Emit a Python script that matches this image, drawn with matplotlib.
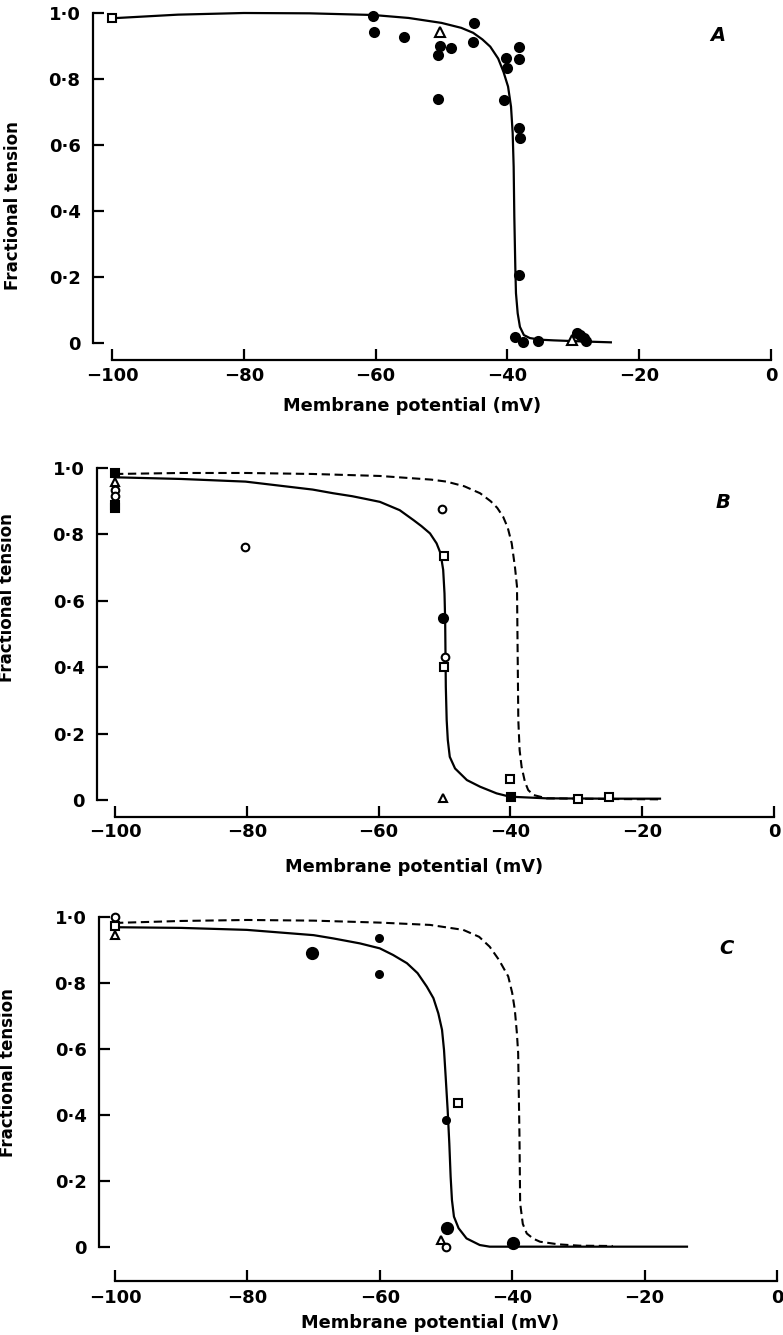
# Fractional tension vs membrane potential, three panels (A, B, C)
import matplotlib
matplotlib.use("Agg")
import matplotlib.pyplot as plt

plt.rcParams['font.family'] = ['DejaVu Sans']
plt.rcParams['font.weight'] = 'bold'

# ---- panel A ----
a_curve_x = [-100, -90, -80, -70, -60.4, -55, -50, -47, -45.2, -43.8, -42.6, -41.4, -40.6, -39.9, -39.45,
             -39.2, -39.05, -38.95, -38.8, -38.7, -38.44, -38.1, -37.5, -36.6, -35, -33, -29, -24.3]
a_curve_y = [0.984, 0.995, 1.0, 0.999, 0.994, 0.985, 0.97, 0.955, 0.94, 0.92, 0.898, 0.862, 0.822, 0.777, 0.716,
             0.636, 0.534, 0.383, 0.23, 0.151, 0.09, 0.049, 0.024, 0.015, 0.010, 0.008, 0.005, 0.002]

a_fill_x = [-60.4, -60.2, -55.7, -45.1, -45.2, -50.2, -50.5, -48.5, -50.6, -40.2, -40.1, -40.5,
            -38.3, -38.2, -38.3, -38.1, -38.2, -38.8, -37.6, -35.3, -29.5, -29.0, -28.4, -28.0]
a_fill_y = [0.991, 0.943, 0.926, 0.969, 0.913, 0.900, 0.873, 0.893, 0.738, 0.863, 0.833, 0.736,
            0.898, 0.860, 0.651, 0.620, 0.206, 0.019, 0.004, 0.007, 0.031, 0.024, 0.014, 0.007]
a_tri_x = [-50.3, -30.2]
a_tri_y = [0.941, 0.009]
a_sq_x = [-100]
a_sq_y = [0.985]

# ---- panel B ----
b_solid_x = [-100, -90, -80.2, -70, -66.9, -64, -62, -59.8, -56.8, -54.7, -53.5, -52.2, -51.2, -50.6, -50.2,
             -50.0, -49.9, -49.8, -49.67, -49.5, -49.2, -48.4, -46.6, -44.6, -42.1,
             -40.1, -34.5, -25, -17.3]
b_solid_y = [0.972, 0.967, 0.959, 0.935, 0.924, 0.915, 0.907, 0.898, 0.873, 0.843, 0.825, 0.803, 0.773, 0.743, 0.693,
             0.622, 0.542, 0.341, 0.241, 0.181, 0.130, 0.095, 0.060, 0.040, 0.020,
             0.010, 0.005, 0.004, 0.004]
b_dash_x = [-100, -90, -80, -70, -59.8, -52, -49.7, -47, -44.6, -43, -42, -41.1, -40.4, -39.8, -39.3, -39.0,
            -38.9, -38.8, -38.6, -38.3, -37.8, -37.3, -36.5, -34.5, -25, -17.3]
b_dash_y = [0.982, 0.985, 0.985, 0.982, 0.976, 0.965, 0.959, 0.945, 0.924, 0.90, 0.88, 0.853, 0.82, 0.773, 0.70, 0.643,
            0.442, 0.241, 0.15, 0.100, 0.055, 0.030, 0.015, 0.005, 0.003, 0.002]

b_fill_x = [-50.2]
b_fill_y = [0.547]
b_fsq_x = [-100, -100, -100, -39.9]
b_fsq_y = [0.985, 0.890, 0.880, 0.010]
b_circ_x = [-100, -100, -80.2, -50.4, -49.9]
b_circ_y = [0.935, 0.915, 0.763, 0.878, 0.430]
b_sq_x = [-50.1, -50.0, -40.0, -29.8, -25.0]
b_sq_y = [0.735, 0.400, 0.062, 0.004, 0.010]
b_tri_x = [-100, -50.2]
b_tri_y = [0.958, 0.006]

# ---- panel C ----
c_solid_x = [-100, -90, -80.1, -70, -67.0, -63, -60.0, -58, -55.9, -54.3, -52.9, -51.9, -51.16, -50.6, -50.3,
             -50.05, -49.75, -49.5, -49.3, -49.1, -48.8, -48.1, -46.9, -44.9, -43.4, -30, -13.6]
c_solid_y = [0.969, 0.967, 0.961, 0.945, 0.935, 0.92, 0.905, 0.885, 0.860, 0.83, 0.789, 0.754, 0.708, 0.658, 0.597,
             0.516, 0.415, 0.314, 0.213, 0.142, 0.092, 0.057, 0.026, 0.006, 0.001, 0.001, 0.001]
c_dash_x = [-100, -90, -80, -70, -60.0, -52.4, -47.4, -45, -43.4, -42, -40.6, -40, -39.6, -39.3, -39.1, -38.9,
            -38.8, -38.4, -37.8, -36.8, -35.8, -33, -29.8, -24.8]
c_dash_y = [0.982, 0.988, 0.991, 0.989, 0.983, 0.976, 0.961, 0.94, 0.910, 0.87, 0.820, 0.77, 0.718, 0.65, 0.588, 0.334,
            0.133, 0.07, 0.041, 0.025, 0.016, 0.008, 0.004, 0.003]

c_big_x = [-70.2, -49.8, -39.9]
c_big_y = [0.890, 0.057, 0.011]
c_small_x = [-60.1, -60.1, -50.0]
c_small_y = [0.935, 0.826, 0.385]
c_circ_x = [-100, -50.0]
c_circ_y = [1.001, 0.0]
c_sq_x = [-100, -48.2]
c_sq_y = [0.974, 0.437]
c_tri_x = [-100, -50.8]
c_tri_y = [0.945, 0.021]

x_ticks = [-100, -80, -60, -40, -20, 0]
x_labels = ['\u2212100', '\u221280', '\u221260', '\u221240', '\u221220', '0']
y_ticks = [0, 0.2, 0.4, 0.6, 0.8, 1.0]
y_labels = ['0', '0\u00b72', '0\u00b74', '0\u00b76', '0\u00b78', '1\u00b70']

W, H = 783, 1335
fig = plt.figure(figsize=(W / 100, H / 100), dpi=100)


def make_axes(left, top, right, bottom, left_off, bottom_off, xpad):
    ax = fig.add_axes([left / W, 1 - bottom / H, (right - left) / W, (bottom - top) / H])
    ax.set_xlim(-100, 0)
    ax.set_ylim(0, 1)
    for s in ['top', 'right']:
        ax.spines[s].set_visible(False)
    ax.spines['left'].set_position(('outward', left_off * 0.72))
    ax.spines['bottom'].set_position(('outward', bottom_off * 0.72))
    ax.spines['left'].set_bounds(0, 1)
    ax.spines['bottom'].set_bounds(-100, 0)
    for s in ['left', 'bottom']:
        ax.spines[s].set_linewidth(1.6)
    ax.set_xticks(x_ticks)
    ax.set_xticklabels(x_labels)
    ax.set_yticks(y_ticks)
    ax.set_yticklabels(y_labels)
    ax.tick_params(direction='in', length=8, width=1.6, labelsize=13)
    ax.tick_params(axis='y', pad=9)
    ax.tick_params(axis='x', pad=xpad)
    ax.patch.set_visible(False)
    return ax


def pts(ax, x, y, marker, filled, ms=6.5):
    ax.plot(x, y, linestyle='none', marker=marker, ms=ms, mec='black', mew=1.5,
            mfc='black' if filled else 'white', clip_on=False, zorder=3)


def labels(ax, ylx, yly, xlx, xly, letter, lx, ly):
    ax.set_ylabel('Fractional tension', fontsize=12, fontweight='bold')
    ax.yaxis.set_label_coords(ylx, yly)
    ax.set_xlabel('Membrane potential (mV)', fontsize=12.8, fontweight='bold', va='top')
    ax.xaxis.set_label_coords(xlx, xly)
    ax.text(lx, ly, letter, transform=ax.transAxes, fontsize=14, fontweight='bold',
            fontstyle='italic', ha='center', va='center')


# Panel A
axA = make_axes(112, 13, 771, 343, 19, 17, 5)
axA.plot(a_curve_x, a_curve_y, color='black', lw=1.6, clip_on=False)
pts(axA, a_fill_x, a_fill_y, 'o', True)
pts(axA, a_tri_x, a_tri_y, '^', False)
pts(axA, a_sq_x, a_sq_y, 's', False, ms=6)
labels(axA, -0.137, 0.415, 0.455, -0.163, 'A', 0.920, 0.933)

# Panel B
axB = make_axes(115, 468, 774, 800, 18, 17, 4)
axB.plot(b_dash_x, b_dash_y, color='black', lw=1.5, ls=(0, (4, 2.2)), clip_on=False)
axB.plot(b_solid_x, b_solid_y, color='black', lw=1.6, clip_on=False)
pts(axB, b_fill_x, b_fill_y, 'o', True)
pts(axB, b_fsq_x, b_fsq_y, 's', True, ms=6)
pts(axB, b_circ_x, b_circ_y, 'o', False, ms=5.5)
pts(axB, b_sq_x, b_sq_y, 's', False, ms=6)
pts(axB, b_tri_x, b_tri_y, '^', False, ms=6)
labels(axB, -0.150, 0.611, 0.454, -0.174, 'B', 0.923, 0.895)

# Panel C
axC = make_axes(115, 917, 777, 1247, 16, 34, 6)
axC.plot(c_dash_x, c_dash_y, color='black', lw=1.5, ls=(0, (4, 2.2)), clip_on=False)
axC.plot(c_solid_x, c_solid_y, color='black', lw=1.6, clip_on=False)
pts(axC, c_big_x, c_big_y, 'o', True, ms=8)
pts(axC, c_small_x, c_small_y, 'o', True, ms=5)
pts(axC, c_circ_x, c_circ_y, 'o', False, ms=5.5)
pts(axC, c_sq_x, c_sq_y, 's', False, ms=6)
pts(axC, c_tri_x, c_tri_y, '^', False, ms=6)
labels(axC, -0.148, 0.530, 0.476, -0.203, 'C', 0.924, 0.906)

fig.savefig('out.png', dpi=100, facecolor='white')
